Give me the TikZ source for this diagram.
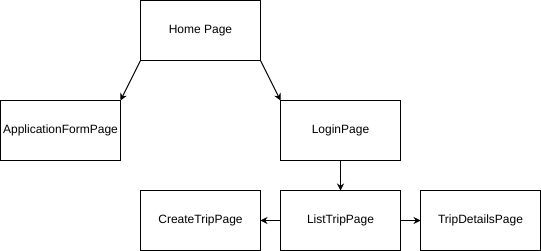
\documentclass[tikz,border=0pt]{standalone}
\usepackage{fontspec}
\setmainfont{Liberation Sans}
\usetikzlibrary{arrows.meta}

\tikzset{
    page/.style={draw, line width=1pt, minimum width=120pt, minimum height=60pt,
        inner sep=0pt, outer sep=0pt, font=\fontsize{12}{14}\selectfont},
    link/.style={line width=1pt, -{Stealth[length=7pt,width=7pt]}}
}

\begin{document}
\begin{tikzpicture}[x=1pt, y=-1pt]
        \useasboundingbox (0,0) rectangle (541,251);
		\node[page] (home) at (200.5, 30.5) {Home Page};
		\node[page] (appform) at (60.5, 130.5) {ApplicationFormPage};
		\node[page] (login) at (340.5, 130.5) {LoginPage};
		\node[page] (create) at (200.5, 220.5) {CreateTripPage};
		\node[page] (list) at (340.5, 220.5) {ListTripPage};
		\node[page] (details) at (480.5, 220.5) {TripDetailsPage};
		\draw[link] (home.south west) to (appform.north east);
		\draw[link] (home.south east) to (login.north west);
		\draw[link] (login.south) to (list.north);
		\draw[link] (list.west) to (create.east);
		\draw[link] (list.east) to (details.west);
    \end{tikzpicture}
\end{document}
